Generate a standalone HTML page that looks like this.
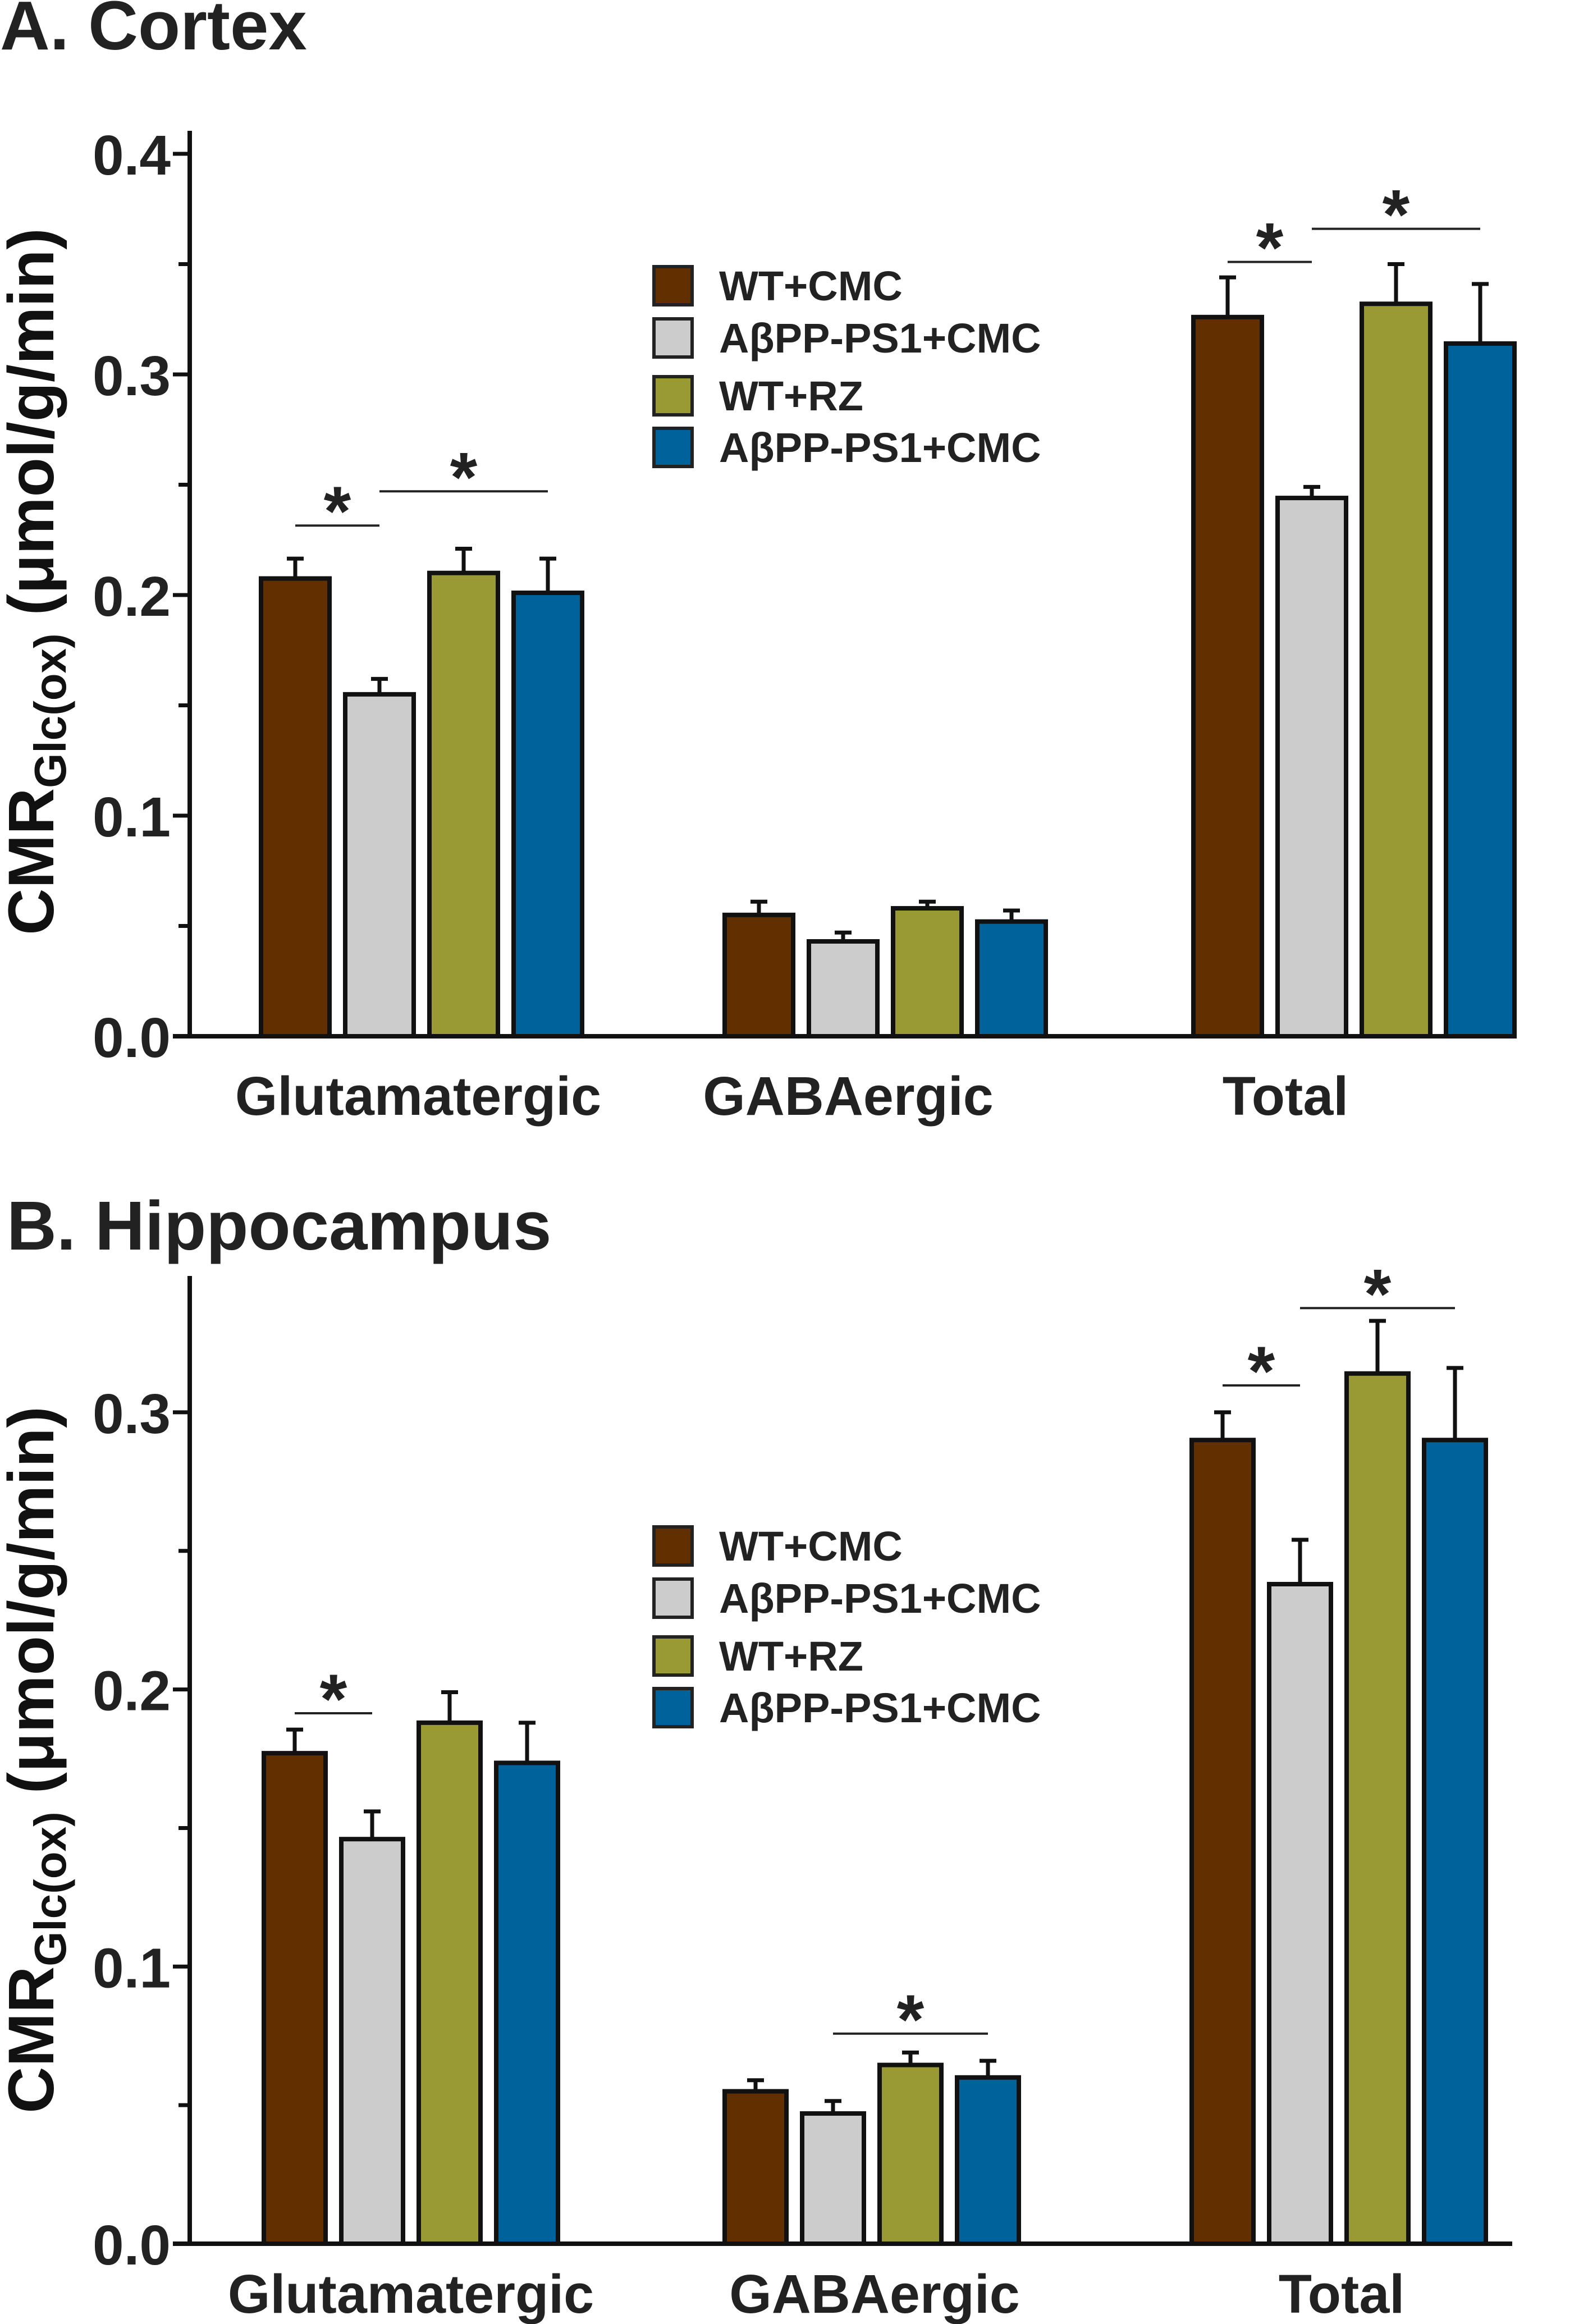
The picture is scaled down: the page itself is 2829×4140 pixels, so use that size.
<!DOCTYPE html>
<html><head><meta charset="utf-8"><style>
html,body{margin:0;padding:0;background:#fff;}
svg{display:block;font-family:"Liberation Sans",Arial,sans-serif;font-weight:bold;}
</style></head><body>
<svg id="chart" width="2829" height="4140" viewBox="0 0 2829 4140" xmlns="http://www.w3.org/2000/svg">
<text x="0" y="88" font-size="123" fill="#222">A. Cortex</text>
<text x="12" y="2226" font-size="123" fill="#222">B. Hippocampus</text>
<g id="pa"></g>
<g id="pb"></g>
</svg>
<script>
const categories = ["Glutamatergic","GABAergic","Total"];
const seriesNames = ["WT+CMC","AβPP-PS1+CMC","WT+RZ","AβPP-PS1+CMC"];
const colors = ["#623000","#cccccc","#9a9a35","#00629b"];
const cortexValues = [[0.2075,0.155,0.210,0.201],[0.055,0.043,0.058,0.052],[0.326,0.244,0.332,0.314]];
const cortexErrors = [[0.2165,0.162,0.221,0.2165],[0.061,0.047,0.061,0.057],[0.344,0.249,0.350,0.341]];
const hippoValues = [[0.177,0.146,0.188,0.1735],[0.055,0.047,0.0645,0.060],[0.290,0.238,0.314,0.290]];
const hippoErrors = [[0.1855,0.156,0.199,0.188],[0.059,0.0515,0.069,0.066],[0.300,0.254,0.333,0.316]];
const cortexTicks = ["0.0","0.1","0.2","0.3","0.4"];
const hippoTicks = ["0.0","0.1","0.2","0.3"];
// significance: [category, fromBar, toBar, yValue]
const cortexSig = [[0,0,1,0.2315],[0,1,3,0.247],[2,0,1,0.351],[2,1,3,0.366]];
const hippoSig = [[0,0,1,0.1914],[1,1,3,0.0758],[2,0,1,0.3097],[2,1,3,0.3376]];

const NS="http://www.w3.org/2000/svg";
function mk(parent,tag,attrs,text){const e=document.createElementNS(NS,tag);for(const k in attrs)e.setAttribute(k,attrs[k]);if(text!==undefined)e.textContent=text;parent.appendChild(e);return e;}

function panel(g,cfg){
  const y=v=>cfg.y0-v*cfg.per;
  const ax=338;
  const ya=mk(g,'line',{x1:ax,y1:cfg.top,x2:ax,y2:cfg.y0+4,stroke:'#111','stroke-width':8});
  
  
  const xa=mk(g,'line',{x1:ax-30,y1:cfg.y0,x2:cfg.xend,y2:cfg.y0,stroke:'#111','stroke-width':8});
  
  
  cfg.ticks.forEach((t,i)=>{
    const v=parseFloat(t);
    const tk=mk(g,'line',{x1:ax-30,y1:y(v),x2:ax,y2:y(v),stroke:'#111','stroke-width':7});
    
    
    const lb=mk(g,'text',{x:304,y:y(v)+37,'font-size':100,'text-anchor':'end',fill:'#222'},t);
    
    
  });
  for(let i=0;i<cfg.ticks.length;i++){
    const v=parseFloat(cfg.ticks[i])+0.05;
    if(y(v)<cfg.top)break;
    const mt=mk(g,'line',{x1:ax-20,y1:y(v),x2:ax,y2:y(v),stroke:'#111','stroke-width':7});
    
    
  }
  const tt=mk(g,'text',{transform:`translate(95,${cfg.ycen}) rotate(-90)`,'font-size':115,'text-anchor':'middle',fill:'#111'});
  
  
  mk(tt,'tspan',{},'CMR');
  mk(tt,'tspan',{'font-size':80,dy:22},'Glc(ox)');
  mk(tt,'tspan',{dy:-22},' (μmol/g/min)');
  const barX=(c,s)=>cfg.gx[c]+s*cfg.pitch;
  cfg.vals.forEach((row,c)=>{
    row.forEach((v,s)=>{
      const x=barX(c,s), cx=x+cfg.bw/2;
      const el=mk(g,'line',{x1:cx,y1:y(v),x2:cx,y2:y(cfg.errs[c][s]),stroke:'#111','stroke-width':7});
      
      
      const ec=mk(g,'line',{x1:cx-15,y1:y(cfg.errs[c][s]),x2:cx+15,y2:y(cfg.errs[c][s]),stroke:'#111','stroke-width':7});
      
      
      const r=mk(g,'rect',{x:x,y:y(v),width:cfg.bw,height:cfg.y0-y(v),fill:colors[s],stroke:'#111','stroke-width':8});
      
      
    });
    const cl=mk(g,'text',{x:cfg.labX[c],y:cfg.labY,'font-size':97,'text-anchor':'middle',fill:'#222'},categories[c]);
    
    
  });
  cfg.sig.forEach(sg=>{
    const [c,a,b,v]=sg;
    const x1=barX(c,a)+cfg.bw/2, x2=barX(c,b)+cfg.bw/2;
    const ln=mk(g,'line',{x1:x1,y1:y(v),x2:x2,y2:y(v),stroke:'#222','stroke-width':4});
    
    
    const st=mk(g,'text',{x:(x1+x2)/2,y:y(v)+78,'font-size':125,'text-anchor':'middle',fill:'#222'},'*');
    st.setAttribute('transform',`translate(0,-60)`);
    
    
  });
  seriesNames.forEach((n,i)=>{
    const ly=cfg.legY[i];
    const sw=mk(g,'rect',{x:1165,y:ly,width:68,height:68,fill:colors[i],stroke:'#222','stroke-width':6});
    
    
    const lt=mk(g,'text',{x:1281,y:ly+60,'font-size':74,fill:'#222'},n);
    
    
  });
}
panel(document.getElementById('pa'),{y0:1846,per:3930,top:233,xend:2700,ticks:cortexTicks,ycen:1036,
  gx:[465,1291,2126],pitch:150,bw:122,vals:cortexValues,errs:cortexErrors,sig:cortexSig,labY:1986,
  labX:[745,1511,2290],legY:[475,568,671,763]});
panel(document.getElementById('pb'),{y0:3997,per:4937,top:2273,xend:2694,ticks:hippoTicks,ycen:3135,
  gx:[470,1291,2123],pitch:138,bw:110,vals:hippoValues,errs:hippoErrors,sig:hippoSig,labY:4120,
  labX:[732,1558,2390],legY:[2720,2813,2916,3008]});
</script>
</body></html>
